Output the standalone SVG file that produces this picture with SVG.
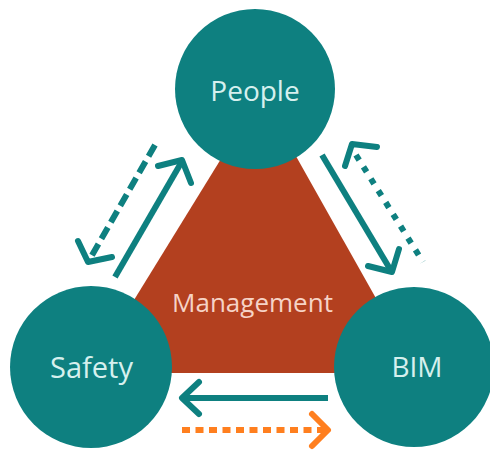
<svg xmlns="http://www.w3.org/2000/svg" width="490" height="452" viewBox="0 0 490 452">
<style>
.node{fill:#0E8080}
.lbl{font-family:"Open Sans","Noto Sans",sans-serif;fill:#D6F0EE;text-anchor:middle}
.ln{fill:none;stroke-width:6;stroke-linecap:butt;stroke-linejoin:miter}
.hd{fill:none;stroke-width:6;stroke-linecap:round;stroke-linejoin:round}
.teal{stroke:#0E8080}
.orange{stroke:#FF7F1F}
</style>
<rect width="490" height="452" fill="#FFFFFF"/>
<g id="management">
<polygon points="261,94 89,373 418,373" fill="#B3401F"/>
<text class="lbl" x="252.5" y="312" font-size="26" style="fill:#F6D3C6">Management</text>
</g>
<g id="people">
<circle class="node" cx="255" cy="89" r="80"/>
<text class="lbl" x="255" y="101" font-size="28">People</text>
</g>
<g id="safety">
<circle class="node" cx="91" cy="367" r="81"/>
<text class="lbl" x="91.5" y="378" font-size="29">Safety</text>
</g>
<g id="bim">
<circle class="node" cx="414" cy="367" r="80"/>
<text class="lbl" x="417" y="377" font-size="28">BIM</text>
</g>
<g id="connectors">
<line class="ln teal" x1="115" y1="277" x2="181" y2="163"/>
<polyline class="hd teal" points="158,166 182,160 191,183"/>
<line class="ln teal" x1="155" y1="145" x2="91" y2="257" stroke-dasharray="13,6"/>
<polyline class="hd teal" points="78,241 88,262 112,257"/>
<line class="ln teal" x1="322" y1="155" x2="390" y2="269"/>
<polyline class="hd teal" points="368,266 392,272 399,249"/>
<line class="ln teal" x1="356" y1="155" x2="423" y2="262" stroke-dasharray="6,8"/>
<polyline class="hd teal" points="345,166 352,144 377,147"/>
<line class="ln teal" x1="328" y1="398" x2="185" y2="398"/>
<polyline class="hd teal" points="199,382 182,398 199,414"/>
<line class="ln orange" x1="182" y1="430" x2="324" y2="430" stroke-dasharray="8,5.5"/>
<polyline class="hd orange" points="312,414 328,430 312,446"/>
</g>
</svg>
